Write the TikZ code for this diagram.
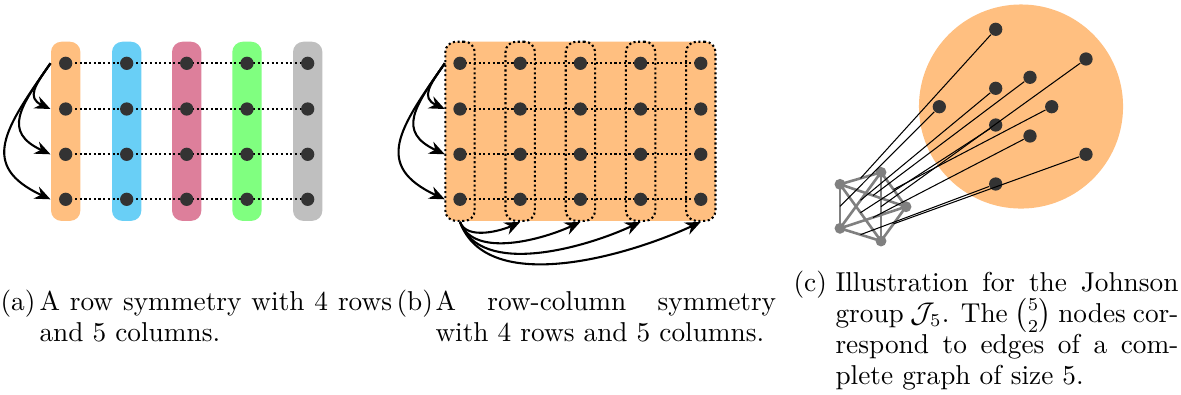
\documentclass[tikz,border=0pt]{standalone}
\usepackage{amsmath}
\usetikzlibrary{arrows.meta,fit,calc}
\pgfdeclarelayer{background}
\pgfdeclarelayer{mid}
\pgfsetlayers{background,mid,main}
\definecolor{cOrange}{RGB}{255,191,128}
\definecolor{cBlue}{RGB}{105,207,246}
\definecolor{cPink}{RGB}{221,127,155}
\definecolor{cGreen}{RGB}{128,255,128}
\definecolor{cGray}{RGB}{191,191,191}
\definecolor{cDot}{RGB}{51,51,51}
\definecolor{cK}{RGB}{128,128,128}
\tikzset{
  dot/.style={circle,fill=cDot,inner sep=0pt,minimum size=5.1pt},
  pill/.style={rounded corners=4pt,inner xsep=2.9pt,inner ysep=5.55pt},
  rowline/.style={densely dotted,line width=0.8pt},
  symarrow/.style={-{Stealth[length=6pt,width=5pt]},line width=0.8pt},
  kv/.style={circle,fill=cK,inner sep=0pt,minimum size=4.2pt},
  kedge/.style={draw=cK,line width=1pt},
  link/.style={line width=0.4pt},
  capt/.style={inner sep=0pt,font=\fontsize{10.5}{11.92}\selectfont},
}
\begin{document}
\begin{tikzpicture}[x=0.3846pt,y=-0.3846pt]
\useasboundingbox (0,0) rectangle (1181,394);
% ---------- panel (a)
\foreach \c/\x in {1/65.7,2/126.7,3/186.7,4/247,5/307.7}
  \foreach \r/\y in {1/63.3,2/109,3/154.3,4/199.3}
    \node[dot] (a\r\c) at (\x,\y) {};
\begin{pgfonlayer}{background}
\foreach \c/\col in {1/cOrange,2/cBlue,3/cPink,4/cGreen,5/cGray}
  \node[pill,fill=\col,fit=(a1\c)(a4\c)] (pa\c) {};
\end{pgfonlayer}
\begin{pgfonlayer}{mid}
\foreach \r in {1,...,4}
  \draw[rowline] (a\r1.center) -- (a\r5.center);
\end{pgfonlayer}
\foreach \r in {2,3,4}
  \draw[symarrow] (pa1.west |- a11) to[out=235,in=155,looseness=1.5] (pa1.west |- a\r1);
% ---------- panel (b)
\foreach \c/\x in {1/460,2/520.2,3/580.4,4/640.6,5/700.8}
  \foreach \r/\y in {1/63.3,2/109,3/154.3,4/199.3}
    \node[dot] (b\r\c) at (\x,\y) {};
\begin{pgfonlayer}{background}
\node[pill,fill=cOrange,fit=(b11)(b45)] (pb) {};
\end{pgfonlayer}
\begin{pgfonlayer}{mid}
\foreach \c in {1,...,5}
  \node[pill,draw,rowline,fit=(b1\c)(b4\c)] (pb\c) {};
\foreach \r in {1,...,4}
  \draw[rowline] (b\r1.center) -- (b\r5.center);
\end{pgfonlayer}
\foreach \r in {2,3,4}
  \draw[symarrow] (pb.west |- b11) to[out=235,in=155,looseness=1.5] (pb.west |- b\r1);
\foreach \c in {2,...,5}
  \draw[symarrow] (pb1.south) to[out=290,in=205,looseness=0.85] (pb\c.south);
% ---------- panel (c)
\begin{pgfonlayer}{background}
\node[circle,fill=cOrange,inner sep=0pt,minimum size=78.5pt] (blob) at (1021,106.5) {};
\end{pgfonlayer}
\node[kv] (ka) at (840,184.3) {};
\node[kv] (kb) at (881,172.3) {};
\node[kv] (kc) at (906,206.7) {};
\node[kv] (kd) at (840,228.3) {};
\node[kv] (ke) at (881,241) {};
\begin{pgfonlayer}{mid}
\foreach \u/\v in {a/b,a/c,a/d,a/e,b/c,b/d,b/e,c/d,c/e,d/e}
  \draw[kedge] (k\u.center) -- (k\v.center);
\end{pgfonlayer}
\foreach \u/\v in {a/b,a/c,a/d,a/e,b/c,b/d,b/e,c/d,c/e,d/e}
  \coordinate (m\u\v) at ($(k\u)!0.5!(k\v)$);
\node[dot] (j1) at (995.7,29.3) {};
\node[dot] (j2) at (1086,59) {};
\node[dot] (j3) at (1030,77.3) {};
\node[dot] (j4) at (995.7,88.3) {};
\node[dot] (j5) at (939.3,106.7) {};
\node[dot] (j6) at (1051.7,106.7) {};
\node[dot] (j7) at (995.7,125) {};
\node[dot] (j8) at (1030,136) {};
\node[dot] (j9) at (1086,154.3) {};
\node[dot] (j10) at (995.7,184) {};
\foreach \j/\m in {1/ab,2/be,3/ac,4/bd,5/ad,6/bc,7/ae,8/cd,9/ce,10/de}
  \draw[link] (j\j) -- (m\m);
% ---------- captions
\node[capt,anchor=base west] (la) at (0,310) {(a)};
\node[capt,anchor=base west,text width=135.6pt,align=justify] (ta) at (39,310)
  {\sloppy A row symmetry with 4 rows\linebreak and 5 columns.};
\node[capt,anchor=base west] (lb) at (396,310) {(b)};
\node[capt,anchor=base west,text width=131pt,align=justify] (tb) at (435,310)
  {\sloppy A row-column symmetry\linebreak with 4 rows and 5 columns.};
\node[capt,anchor=base west] (lc) at (793,291.7) {(c)};
\node[capt,anchor=base west,text width=131.9pt,align=justify] (tc) at (835,291.7)
  {\sloppy Illustration for the Johnson\linebreak group $\mathcal{J}_5$. The $\binom{5}{2}$ nodes cor-\linebreak respond to edges of a com-\linebreak plete graph of size 5.};
\end{tikzpicture}
\end{document}
